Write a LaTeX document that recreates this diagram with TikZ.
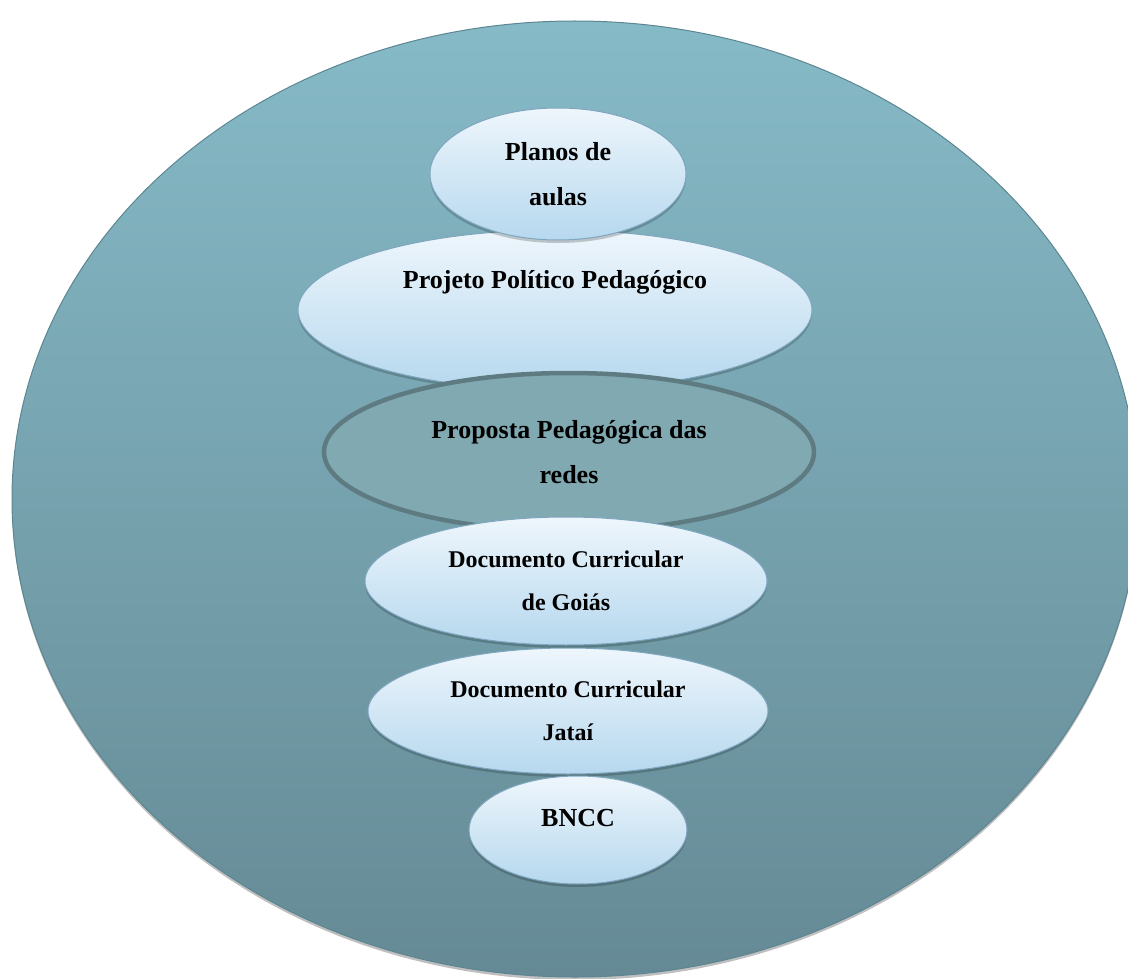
\documentclass[tikz,border=0pt]{standalone}
\usepackage{fontspec}
\setmainfont{Liberation Serif}
\usetikzlibrary{shapes.geometric,shadows}
\definecolor{bigtop}{HTML}{86BAC7}
\definecolor{bigbot}{HTML}{658A95}
\definecolor{bigborder}{HTML}{5C8691}
\definecolor{lighttop}{HTML}{EEF6FC}
\definecolor{lightbot}{HTML}{B6D8EE}
\definecolor{lightborder}{HTML}{7FA6BF}
\definecolor{propfill}{HTML}{81A9B1}
\definecolor{propborder}{HTML}{5E7B82}
\begin{document}
\begin{tikzpicture}[x=1pt,y=-1pt,
  bigell/.style={ellipse, inner sep=0pt, draw=bigborder, line width=1pt,
    top color=bigtop, bottom color=bigbot,
    drop shadow={shadow xshift=0pt, shadow yshift=-3pt, fill=black, opacity=0.25}},
  lightell/.style={ellipse, inner sep=0pt, draw=lightborder, line width=1pt,
    top color=lighttop, bottom color=lightbot,
    drop shadow={shadow xshift=0pt, shadow yshift=-3pt, fill=black, opacity=0.2}},
  propell/.style={ellipse, inner sep=0pt, draw=propborder, line width=4.5pt, fill=propfill},
  big/.style={font=\fontsize{26}{45}\selectfont\bfseries, align=center, text=black},
  small/.style={font=\fontsize{24}{43}\selectfont\bfseries, align=center, text=black}]
\useasboundingbox (0,0) rectangle (1128,979);
\clip (0,0) rectangle (1128,979);
\node[bigell, minimum width=1126pt, minimum height=956pt] (outer) at (575,499) {};
\node[lightell, minimum width=514pt, minimum height=160pt] (proj) at (555,310) {};
\node[big] (projtxt) at ([yshift=28pt]proj.center) {Projeto Político Pedagógico};
\node[lightell, minimum width=256pt, minimum height=132pt, big] (planos) at (558,174) {Planos de\\aulas};
\node[propell, minimum width=490pt, minimum height=158pt, big] (prop) at (569,452) {Proposta Pedagógica das\\redes};
\node[lightell, minimum width=402pt, minimum height=128pt, small] (goias) at (566,581) {Documento Curricular\\de Goiás};
\node[lightell, minimum width=400pt, minimum height=126pt, small] (jatai) at (568,711) {Documento Curricular\\Jataí};
\node[lightell, minimum width=218pt, minimum height=108pt] (bncc) at (578,830) {};
\node[big] (bncctxt) at ([yshift=12pt]bncc.center) {BNCC};
\end{tikzpicture}
\end{document}
